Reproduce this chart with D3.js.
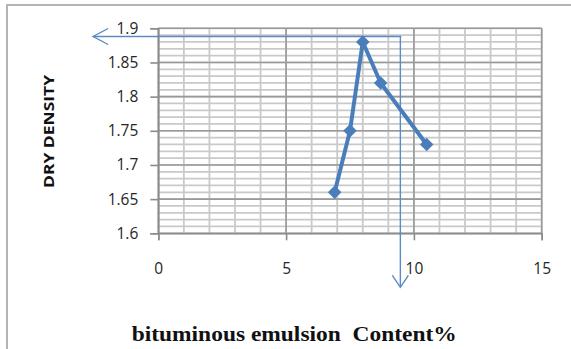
<!DOCTYPE html>
<html>
<head>
<meta charset="utf-8">
<script src="https://cdn.jsdelivr.net/npm/d3@7"></script>
<style>
  html, body { margin: 0; padding: 0; background: #fff; }
  svg { display: block; }
</style>
</head>
<body>
<div id="chart"></div>
<script>
// Chart data
const content = [6.9, 7.5, 8.0, 8.7, 10.5];
const density = [1.66, 1.75, 1.88, 1.82, 1.73];
const xTicks = [0, 5, 10, 15];
const yTicks = [1.6, 1.65, 1.7, 1.75, 1.8, 1.85, 1.9];
const xMinor = d3.range(0, 16, 1);
const yMinor = d3.range(160, 191, 1).map(v => v / 100);
// Optimum guide: content%, density, and where the arrows end
const guideX = [9.47, -2.55];
const guideY = [1.888, 1.521];

const width = 571, height = 349;

const svg = d3.select("#chart")
    .append("svg")
    .attr("width", width)
    .attr("height", height);

// outer chart border (runs off the image to the right and bottom)
svg.append("rect")
    .attr("x", 7).attr("y", 5)
    .attr("width", 600).attr("height", 400)
    .attr("fill", "none")
    .attr("stroke", "#b4b4b4")
    .attr("stroke-width", 2);

const x = d3.scaleLinear().domain([0, 15]).range([158.3, 541.7]);
const y = d3.scaleLinear().domain([1.6, 1.9]).range([233.3, 28.3]);

// Minor gridlines
const grid = svg.append("g");
grid.selectAll(".hminor")
    .data(yMinor)
    .join("line")
    .attr("x1", x(0)).attr("x2", x(15))
    .attr("y1", d => y(d)).attr("y2", d => y(d))
    .attr("stroke", "#c9c9c9")
    .attr("stroke-width", 1.8);
grid.selectAll(".vminor")
    .data(xMinor)
    .join("line")
    .attr("x1", d => x(d)).attr("x2", d => x(d))
    .attr("y1", y(1.6)).attr("y2", y(1.9))
    .attr("stroke", "#c9c9c9")
    .attr("stroke-width", 1.8);

// Major gridlines
grid.selectAll(".hmajor")
    .data(yTicks)
    .join("line")
    .attr("x1", x(0)).attr("x2", x(15))
    .attr("y1", d => y(d)).attr("y2", d => y(d))
    .attr("stroke", "#9a9a9a")
    .attr("stroke-width", 1.6);
grid.selectAll(".vmajor")
    .data(xTicks)
    .join("line")
    .attr("x1", d => x(d)).attr("x2", d => x(d))
    .attr("y1", y(1.6)).attr("y2", y(1.9))
    .attr("stroke", "#9a9a9a")
    .attr("stroke-width", 1.6);

// Axes
const yAxis = svg.append("g")
    .attr("transform", `translate(${x(0)},0)`)
    .call(d3.axisLeft(y).tickValues(yTicks).tickSize(8).tickPadding(12)
        .tickFormat(d => d3.format("")(+d.toFixed(2))));
const xAxis = svg.append("g")
    .attr("transform", `translate(0,${y(1.6)})`)
    .call(d3.axisBottom(x).tickValues(xTicks).tickSize(7).tickPadding(23));

[yAxis, xAxis].forEach(ax => {
    ax.select(".domain").attr("stroke", "#8c8c8c").attr("stroke-width", 1.6);
    ax.selectAll(".tick line").attr("stroke", "#8c8c8c").attr("stroke-width", 1.6);
    ax.selectAll(".tick text")
        .attr("font-family", "'Open Sans', sans-serif")
        .attr("font-size", "15.5px")
        .attr("fill", "#262626");
});

// Optimum guide arrows
const guideColor = "#5b8ac6";
const gx = x(guideX[0]), gy = y(guideY[0]);
const leftEnd = x(guideX[1]), bottomEnd = y(guideY[1]);
const guide = svg.append("g")
    .attr("fill", "none")
    .attr("stroke", guideColor)
    .attr("stroke-width", 1.4);
guide.append("line")
    .attr("x1", gx + 1).attr("x2", leftEnd)
    .attr("y1", gy).attr("y2", gy);
guide.append("line")
    .attr("x1", gx).attr("x2", gx)
    .attr("y1", gy).attr("y2", bottomEnd);
guide.append("path")
    .attr("d", `M${leftEnd + 15},${gy - 8}L${leftEnd},${gy}L${leftEnd + 15},${gy + 8}`);
guide.append("path")
    .attr("d", `M${gx - 8},${bottomEnd - 12}L${gx},${bottomEnd}L${gx + 8},${bottomEnd - 12}`);

// Data series
const points = content.map((c, i) => ({ c: c, d: density[i] }));
const lineColor = "#4a7ebb";

svg.append("path")
    .datum(points)
    .attr("fill", "none")
    .attr("stroke", lineColor)
    .attr("stroke-width", 4)
    .attr("stroke-linejoin", "round")
    .attr("d", d3.line().x(p => x(p.c)).y(p => y(p.d)));

svg.selectAll(".marker")
    .data(points)
    .join("path")
    .attr("class", "marker")
    .attr("d", d3.symbol(d3.symbolSquare, 92))
    .attr("transform", p => `translate(${x(p.c)},${y(p.d)}) rotate(45)`)
    .attr("fill", lineColor);

// Axis titles
svg.append("text")
    .attr("transform", `translate(53.5,131.5) rotate(-90)`)
    .attr("text-anchor", "middle")
    .attr("font-family", "'Open Sans', sans-serif")
    .attr("font-weight", "bold")
    .attr("font-size", "15px")
    .attr("fill", "#111")
    .attr("textLength", 113)
    .attr("lengthAdjust", "spacingAndGlyphs")
    .text("DRY DENSITY");

svg.append("text")
    .attr("x", 131.7)
    .attr("y", 341)
    .attr("font-family", "'Liberation Serif', serif")
    .attr("font-weight", "bold")
    .attr("font-size", "22px")
    .attr("fill", "#111")
    .attr("textLength", 325)
    .attr("lengthAdjust", "spacingAndGlyphs")
    .style("white-space", "pre")
    .text("bituminous emulsion  Content%");
</script>
</body>
</html>
